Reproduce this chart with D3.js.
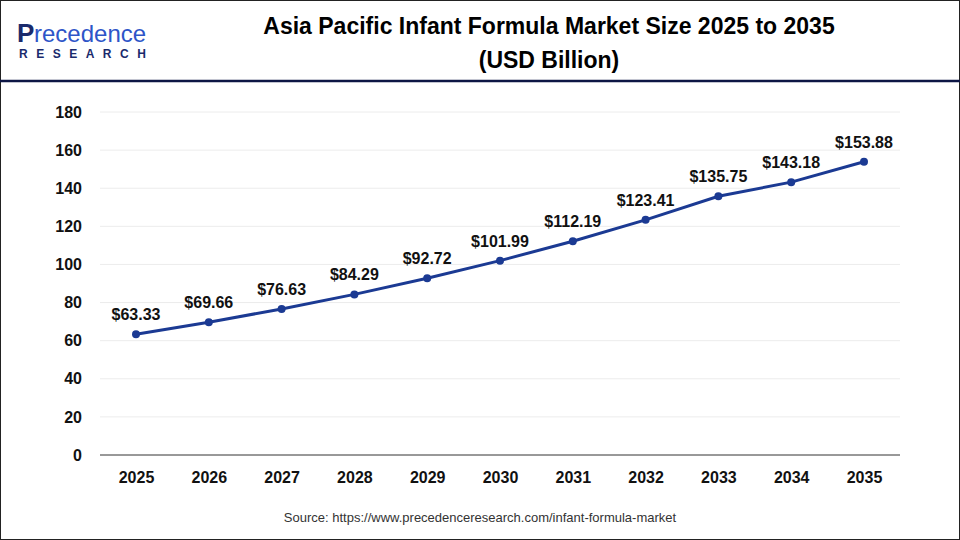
<!DOCTYPE html>
<html><head><meta charset="utf-8">
<script src="https://cdn.jsdelivr.net/npm/d3@7"></script>
<style>body{margin:0;background:#fff}svg{display:block;font-family:Arial,"Liberation Sans",sans-serif}</style>
</head><body>
<svg id="chart" width="960" height="540"></svg>
<script>
var years = ["2025","2026","2027","2028","2029","2030","2031","2032","2033","2034","2035"];
var values = [63.33,69.66,76.63,84.29,92.72,101.99,112.19,123.41,135.75,143.18,153.88];
var yTicks = [0,20,40,60,80,100,120,140,160,180];

var svg = d3.select('#chart');
svg.append('rect').attr('x',0.5).attr('y',0.5).attr('width',959).attr('height',539).attr('fill','none').attr('stroke','#222');
svg.append('line').attr('x1',0).attr('x2',960).attr('y1',81).attr('y2',81).attr('stroke','#0d1645').attr('stroke-width',2.5);

// logo
svg.append('text').attr('x',17).attr('y',42).attr('fill','#1a2a6c').style('font-size','26px').style('font-weight','bold').text('P');
svg.append('text').attr('x',34).attr('y',42).attr('fill','#2e55c8').style('font-size','24px').text('recedence');
svg.append('text').attr('x',19).attr('y',58).attr('fill','#1a2a6c').style('font-size','12px').style('font-weight','bold').style('letter-spacing','8.5px').text('RESEARCH');

svg.append('text').attr('x',549).attr('y',34).attr('text-anchor','middle').style('font-size','23px').style('font-weight','bold').text('Asia Pacific Infant Formula Market Size 2025 to 2035');
svg.append('text').attr('x',549).attr('y',68).attr('text-anchor','middle').style('font-size','23px').style('font-weight','bold').text('(USD Billion)');

var x = d3.scalePoint().domain(years).range([136,864]);
var y = d3.scaleLinear().domain([0,180]).range([455,112]);

svg.append('g').selectAll('line').data(yTicks.slice(1)).join('line')
  .attr('x1',100).attr('x2',900).attr('y1',d=>y(d)).attr('y2',d=>y(d)).attr('stroke','#ececec');
svg.append('line').attr('x1',100).attr('x2',900).attr('y1',y(0)).attr('y2',y(0)).attr('stroke','#333');

var ya = svg.append('g').attr('transform','translate(100,0)').call(d3.axisLeft(y).tickValues(yTicks).tickSize(0).tickPadding(18));
ya.select('.domain').remove();
ya.selectAll('text').style('font-size','16px').style('font-weight','bold').attr('fill','#111').attr('font-family','Arial,sans-serif');
var xa = svg.append('g').attr('transform','translate(0,455)').call(d3.axisBottom(x).tickSize(0).tickPadding(17));
xa.select('.domain').remove();
xa.selectAll('text').style('font-size','16px').style('font-weight','bold').attr('fill','#111').attr('font-family','Arial,sans-serif');

svg.append('path').datum(values).attr('fill','none').attr('stroke','#1b3a93').attr('stroke-width',3)
  .attr('d',d3.line().x((d,i)=>x(years[i])).y(d=>y(d)));
svg.append('g').selectAll('circle').data(values).join('circle')
  .attr('cx',(d,i)=>x(years[i])).attr('cy',d=>y(d)).attr('r',4).attr('fill','#1b3a93');
svg.append('g').selectAll('text').data(values).join('text')
  .attr('x',(d,i)=>x(years[i])).attr('y',d=>y(d)-14).attr('text-anchor','middle')
  .style('font-size','16px').style('font-weight','bold').attr('fill','#111').text(d=>'$'+d.toFixed(2));

svg.append('text').attr('x',480).attr('y',522).attr('text-anchor','middle').style('font-size','13px').attr('fill','#333')
  .text('Source: https://www.precedenceresearch.com/infant-formula-market');
</script>
</body></html>
